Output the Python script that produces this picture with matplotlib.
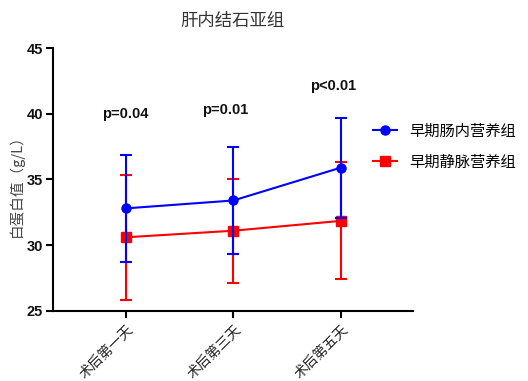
import matplotlib
matplotlib.use("Agg")
import matplotlib.pyplot as plt

plt.rcParams['font.family'] = ['Noto Sans CJK SC', 'DejaVu Sans']

# data
days = ["术后第一天", "术后第三天", "术后第五天"]
enteral_mean = [32.8, 33.4, 35.9]
enteral_sd = [4.05, 4.05, 3.8]
parenteral_mean = [30.6, 31.1, 31.85]
parenteral_sd = [4.75, 3.95, 4.45]
p_labels = ["p=0.04", "p=0.01", "p<0.01"]
p_heights = [40.0, 40.3, 42.1]

fig = plt.figure(figsize=(5.28, 3.81), dpi=100)
ax = fig.add_axes([0.100, 0.184, 0.682, 0.690])

x = list(range(len(days)))
blue = ax.errorbar(x, enteral_mean, yerr=enteral_sd, color="#0000ff", marker="o",
                   markersize=6.5, lw=1.5, capsize=4, capthick=1.5, elinewidth=1.5,
                   zorder=3)
red = ax.errorbar(x, parenteral_mean, yerr=parenteral_sd, color="#ff0000", marker="s",
                  markersize=6.5, lw=1.5, capsize=4, capthick=1.5, elinewidth=1.5,
                  zorder=2)

nudge = [-0.01, -0.08, -0.07]
for xi, lab, h, dx in zip(x, p_labels, p_heights, nudge):
    ax.text(xi + dx, h, lab, ha="center", va="center", fontsize=10.5,
            fontweight="bold", family="Liberation Sans", color="#111111")

ax.set_xlim(-0.68, 2.67)
ax.set_ylim(25, 45)
ax.set_yticks([25, 30, 35, 40, 45])
ax.set_xticks(x)
ax.set_xticklabels(days, rotation=45, ha="right", rotation_mode="anchor",
                   fontsize=10, color="#222222")
for t in ax.get_yticklabels():
    t.set_fontweight("bold")
    t.set_fontsize(10.5)
    t.set_family("Liberation Sans")
    t.set_color("#111111")

ax.spines["top"].set_visible(False)
ax.spines["right"].set_visible(False)
ax.spines["left"].set_linewidth(1.5)
ax.spines["bottom"].set_linewidth(1.5)
ax.tick_params(width=1.5, length=5)
ax.tick_params(axis="x", pad=3)
ax.tick_params(axis="y", pad=2)

ax.set_ylabel("白蛋白值（g/L）", fontsize=10.5, color="#444444")
ax.yaxis.set_label_coords(-0.08, 0.49)
ax.set_title("肝内结石亚组", fontsize=12.5, color="#333333", pad=16)

ax.legend([blue[0], red[0]], ["早期肠内营养组", "早期静脉营养组"],
          loc="center left", bbox_to_anchor=(0.85, 0.625), frameon=False,
          fontsize=11, handlelength=1.6, handletextpad=0.8, labelspacing=0.9)

fig.savefig("out.png", dpi=100)
